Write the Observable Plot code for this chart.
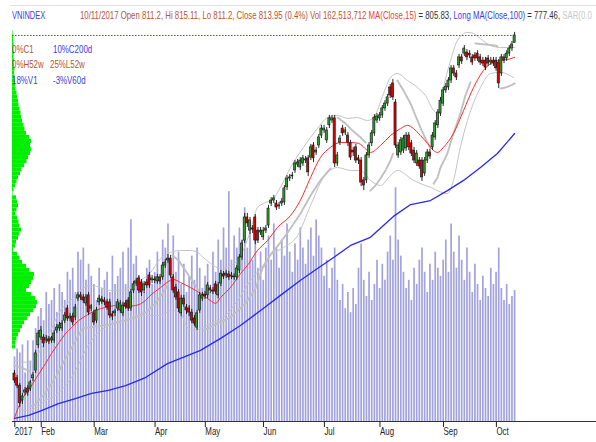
<!DOCTYPE html>
<html>
<head>
<meta charset="utf-8">
<script src="https://cdn.jsdelivr.net/npm/d3@7"></script>
<script src="https://cdn.jsdelivr.net/npm/@observablehq/plot@0.6"></script>
<style>
html,body{margin:0;padding:0;background:#fff;}
#wrap{position:relative;width:596px;height:442px;overflow:hidden;font-family:"Liberation Sans",Arial,sans-serif;background:#fff;}
#wrap svg{position:absolute;left:0;top:0;}
.t{position:absolute;font-size:11px;line-height:11px;white-space:nowrap;transform-origin:0 0;transform:scaleX(0.72);z-index:5;}
#topline{position:absolute;left:10px;right:0;top:5px;height:0;border-top:1px solid #e2e2e2;}
</style>
</head>
<body>
<div id="wrap">
<div id="topline"></div>
<div class="t" style="left:12px;top:10px;color:#4040d8;transform:scaleX(0.68)">VNINDEX</div>
<div class="t" style="left:80px;top:10px;color:#b4553a;transform:scaleX(0.71)">10/11/2017 Open 811.2, Hi 815.11, Lo 811.2, Close 813.95 (0.4%) Vol 162,513,712 <span style="color:#e8433a">MA(Close,15)</span><span style="color:#333"> = 805.83, </span><span style="color:#3c3ce4">Long MA(Close,100)</span><span style="color:#333"> = 777.46, </span><span style="color:#c8c8c8">SAR(0.0</span></div>
<div class="t" style="left:12px;top:43.5px;color:#b4553a">0%C1</div>
<div class="t" style="left:53px;top:43.5px;color:#4040d8">10%C200d</div>
<div class="t" style="left:12px;top:58.5px;color:#b4553a">0%H52w</div>
<div class="t" style="left:50px;top:58.5px;color:#b4553a">25%L52w</div>
<div class="t" style="left:12px;top:75px;color:#4040d8">18%V1</div>
<div class="t" style="left:53px;top:75px;color:#4040d8">-3%V60d</div>
</div>
<script>
// ---- daily bars (trading-day index 0 = first bar of 2017) ----
const opens = [
688.1,686.3,683.6,678.1,681.0,682.5,682.5,686.3,689.2,698.6,
701.5,701.5,700.4,700.8,700.4,700.4,704.1,704.9,704.9,707.8,
712.3,708.6,709.3,709.0,716.0,717.2,716.4,714.2,717.2,712.3,
710.5,707.8,714.6,715.7,715.3,714.6,714.6,710.1,710.5,712.3,
711.6,710.5,714.2,715.3,712.3,719.0,721.6,723.5,722.0,719.0,
722.0,724.6,722.8,723.1,722.4,723.9,723.9,728.3,730.2,730.9,
723.9,720.1,718.3,710.5,716.0,712.7,712.3,710.8,708.6,705.2,
711.6,716.0,717.5,717.2,719.8,719.0,721.3,717.2,721.6,725.0,
724.6,725.0,724.2,723.9,723.9,726.5,731.3,737.6,746.2,741.3,
742.1,746.2,741.3,740.6,738.8,741.3,743.2,751.4,752.5,751.4,
750.7,751.4,751.8,757.4,760.7,761.5,763.7,765.9,764.8,766.3,
767.4,768.2,768.5,773.0,770.4,773.0,776.7,778.6,774.9,780.5,
782.3,783.1,766.3,774.1,779.3,777.8,776.7,773.8,771.1,772.3,
768.2,767.4,760.0,760.0,769.3,773.8,777.5,782.3,783.1,784.2,
786.8,788.6,794.6,796.1,789.0,769.3,770.4,771.1,771.9,776.7,
773.8,771.1,766.3,767.4,767.4,762.6,767.4,770.4,772.3,776.0,
780.5,784.9,788.6,793.5,794.6,797.2,801.7,799.8,802.8,805.8,
807.2,807.6,807.2,805.8,806.5,807.2,805.8,804.6,804.6,805.4,
803.9,804.6,804.6,803.9,799.8,805.8,805.4,807.2,809.1,811.2];
const highs = [
689.2,687.4,684.4,680.7,682.9,683.6,685.5,688.5,696.7,704.1,
705.6,702.6,702.3,701.9,701.9,704.1,706.4,707.1,707.8,710.8,
713.4,710.5,710.5,713.8,718.3,718.3,717.5,717.5,718.3,713.8,
711.6,712.7,717.2,716.8,716.4,715.7,715.7,711.2,712.0,715.7,
715.3,714.6,715.3,716.4,719.4,722.4,723.5,724.6,723.1,722.4,
723.1,725.7,724.6,724.2,725.0,725.0,729.4,730.6,732.4,732.1,
725.0,721.3,719.4,717.2,717.2,713.8,713.4,712.0,709.7,711.6,
718.3,718.3,718.6,722.0,720.9,720.1,722.4,722.0,726.5,726.1,
726.5,726.1,725.7,725.3,728.3,732.4,737.6,747.7,747.7,746.2,
743.2,747.3,742.5,742.5,742.5,743.2,750.7,753.6,754.4,752.5,
751.8,753.3,758.1,761.8,762.2,763.0,767.4,767.8,768.5,769.3,
768.9,769.3,773.4,774.1,772.3,777.1,780.5,780.5,779.7,784.2,
784.2,784.2,770.4,776.7,780.5,779.7,777.8,774.9,772.3,773.4,
769.3,768.5,761.1,770.4,774.1,778.6,784.5,784.9,785.3,787.9,
789.7,792.0,795.7,797.6,790.1,774.1,776.0,776.7,777.8,777.8,
774.9,772.3,771.1,768.5,768.5,768.5,771.5,771.5,777.8,782.3,
786.4,790.9,794.6,796.1,798.3,802.8,802.8,800.9,806.9,806.9,
810.2,808.7,808.3,806.9,807.6,808.3,806.9,805.8,805.8,806.5,
805.8,805.8,805.8,805.0,806.9,806.9,808.3,810.2,811.7,815.11];
const lows = [
684.4,682.5,675.5,676.6,679.9,679.6,681.4,685.1,688.1,697.4,
700.4,697.8,699.3,698.9,699.3,699.3,703.0,703.8,703.8,706.7,
707.5,707.5,706.0,707.8,714.9,715.3,714.2,713.1,709.7,711.2,
706.0,706.7,713.4,713.8,713.4,711.6,708.6,707.8,709.3,711.2,
710.5,709.3,712.0,711.2,711.2,717.9,720.5,717.9,716.8,717.9,
719.8,719.8,721.6,721.6,721.3,721.3,722.8,727.2,729.1,723.5,
717.9,715.3,710.8,709.3,712.7,710.1,709.3,706.7,705.6,704.1,
710.5,714.9,715.7,716.0,717.9,717.5,717.5,716.0,720.5,723.1,
723.5,722.8,723.1,722.8,722.8,725.3,730.2,736.5,742.5,739.9,
740.2,736.1,736.5,739.5,737.6,740.2,742.1,750.3,751.4,748.8,
749.2,750.3,750.7,756.2,759.6,760.3,762.6,764.8,763.7,765.2,
766.3,761.5,767.4,766.7,769.3,771.9,775.6,777.5,773.8,779.3,
781.2,764.8,765.2,773.0,776.4,776.7,772.6,767.4,768.9,766.3,
765.9,757.7,756.2,758.8,768.2,772.6,776.4,781.2,782.0,783.1,
785.7,787.5,790.5,789.7,771.9,768.2,769.3,770.0,770.8,771.1,
768.9,766.3,765.2,764.1,759.6,761.5,766.3,767.8,771.1,774.9,
779.3,783.8,787.5,792.4,793.5,796.1,798.7,797.2,801.7,803.2,
806.1,804.6,805.4,802.8,804.3,804.3,802.8,802.4,800.9,802.4,
802.8,802.4,800.6,794.2,798.7,803.5,804.3,806.1,808.0,811.2];
const closes = [
685.5,683.6,677.0,679.6,681.8,681.0,684.8,687.4,695.6,703.0,
704.1,699.3,701.2,700.0,701.2,703.0,705.2,706.0,706.7,709.7,
708.6,709.3,707.1,712.7,717.2,716.4,715.3,716.4,710.8,713.1,
707.1,711.6,716.0,714.9,714.6,712.7,709.7,709.3,711.2,714.6,
714.2,713.4,713.1,712.3,718.3,721.3,722.4,719.0,718.3,721.3,
720.9,720.9,723.5,722.8,723.9,722.4,728.3,729.4,730.9,724.6,
719.0,716.4,712.3,716.0,713.8,711.6,710.8,707.8,706.7,710.5,
717.2,717.2,716.8,720.9,719.0,718.6,718.6,720.9,725.3,724.2,
725.3,723.9,724.6,724.2,727.2,731.3,736.5,746.2,744.0,745.1,
741.7,737.6,737.6,741.3,741.3,742.1,749.5,752.5,753.3,749.9,
750.3,752.1,757.0,760.7,761.1,761.8,766.3,766.7,767.4,768.2,
767.8,763.0,772.3,768.2,771.1,776.0,779.3,779.3,778.6,783.1,
783.1,766.3,769.3,775.6,777.5,778.6,774.1,768.5,770.4,767.4,
767.4,759.2,758.1,769.3,773.0,777.5,783.4,783.8,784.2,786.8,
788.6,790.9,791.6,790.9,773.0,773.0,774.9,775.6,776.7,772.3,
770.0,767.4,770.0,765.2,761.1,767.4,770.4,768.9,776.7,781.2,
785.3,789.7,793.5,794.9,797.2,801.7,799.8,798.3,805.8,804.3,
809.1,805.8,806.5,803.9,805.4,805.4,803.9,803.5,802.0,803.5,
804.6,803.5,801.7,796.1,805.8,804.6,807.2,809.1,810.6,813.95];
// volume, millions of shares
const volumes = [
80,90,85,95,60,100,75,100,115,130,
140,125,160,145,150,165,135,170,160,150,
185,175,190,160,210,200,215,175,195,180,
170,150,190,165,175,185,160,205,170,180,
190,210,170,215,250,195,205,180,175,160,
190,200,170,185,210,175,225,215,245,200,
230,185,210,170,195,160,180,205,175,215,
190,165,180,195,160,210,185,225,200,240,
215,285,200,230,215,240,225,265,215,235,
200,225,190,210,175,215,230,200,245,215,
190,225,205,245,210,185,220,200,240,215,
195,225,240,205,250,230,215,180,200,165,
190,215,175,150,170,140,160,135,165,145,
190,220,175,155,185,150,170,200,165,195,
175,210,230,200,290,225,205,185,165,175,
150,190,170,200,215,185,160,195,175,210,
190,180,200,225,185,245,210,190,230,200,
175,215,185,160,195,170,150,180,165,155,
190,170,185,215,165,150,170,145,155,162.5];

// ---- month ticks ----
const monthIdx = [0,10,30,53,72,94,117,138,162,182];
const monthLabels = ["2017","Feb","Mar","Apr","May","Jun","Jul","Aug","Sep","Oct"];

// ---- indicators ----
const ma15Idx = [0,3,5.3,8.3,11.7,14,16.6,19.3,21.5,24.2,27.2,30.6,34.4,38.2,42,45.7,49.5,51.4,55.2,59,60.1,62.7,66.5,70.3,74,76,77.9,81.6,85.4,88,91.8,95.6,99.4,104.3,108,111.9,115.6,119.4,123.2,127,130,133.4,134.5,138.3,142.1,145.9,148.5,150.8,153.4,156.1,158.4,159.9,162.1,165.9,169.7,173.5,177.2,179.9,182.5,186.3,189];
const ma15Val = [671.7,678.8,681.8,686.6,691.8,695.6,699.3,703.0,705.2,707.8,709.7,711.6,712.7,713.4,713.1,713.4,715.3,717.2,720.1,722.8,723.1,722.0,720.1,717.9,715.3,714.2,716.4,720.1,725.3,728.3,733.9,737.6,742.5,746.9,752.5,761.1,768.5,772.3,774.1,774.1,773.8,771.1,770.4,773.0,776.7,779.3,780.5,779.3,776.7,773.8,771.1,770.4,772.3,777.5,786.0,794.6,800.9,803.5,804.6,805.0,805.83];
const ma100Idx = [0,5.3,10.2,16.6,23,29.1,35.5,42,49.5,57.8,70.3,77.9,85.4,93,100.5,108.1,114.5,120.6,127,134.5,143.2,149.7,157.2,163.6,169.7,176.1,182.5,189];
const ma100Val = [671.4,672.5,674.3,676.9,678.8,680.7,681.8,683.6,686.6,691.8,696.7,701.2,706.0,711.6,717.2,722.8,727.2,731.3,735.8,738.8,746.6,751.0,752.5,756.2,760.0,764.8,770.0,777.46];
const bbUpIdx = [0,6,9.8,13.6,17.4,21.2,24.9,28.7,32.5,36.3,40.1,43.8,47.6,51.4,55.2,59,62.7,66.5,69.2,71.4,74.1,77.9,81.6,84.3,89.2,91.8,94.1,97.9,100.5,104.3,109.2,114.5,118.3,122.1,125.9,129.6,133.4,135.7,139.5,142.1,144.7,148.5,152.3,155.3,158.4,159.9,162.1,164.8,167.4,171.2,173.5,176.1,179.9,183.7,189];
const bbUpVal = [693.0,692.2,696.7,704.1,711.6,715.3,719.0,720.9,720.1,719.0,719.0,720.1,722.8,725.7,730.9,733.2,733.9,733.9,733.2,731.3,729.1,727.2,728.3,730.2,741.3,749.9,751.4,753.3,757.4,764.8,772.3,779.3,783.4,784.2,783.1,783.4,782.3,783.4,792.4,798.3,799.8,797.2,794.6,791.6,786.0,784.9,794.6,804.6,812.1,815.1,814.7,812.8,810.2,809.5,809.5];
const bbLoIdx = [0,4.2,7.9,11.7,15.5,19.3,23.1,26.8,30.6,34.4,38.2,42,45.7,49.5,54,60.1,62.7,65.4,67.6,70.3,74.1,79,84.3,89.2,93,96.8,101.7,107,111.9,116.8,122.1,127,130.8,134.5,138.3,142.1,144.7,150.8,157.2,163.6,165.9,168.5,171.2,176.1,179.9,183.7,188.6];
const bbLoVal = [676.2,674.3,675.1,678.1,679.9,683.6,689.2,696.7,702.3,705.2,707.1,707.8,708.6,709.7,709.7,711.6,710.5,705.2,704.1,704.9,706.7,709.0,715.3,722.8,727.2,732.1,735.0,739.5,750.7,761.1,764.8,763.7,763.7,760.0,758.1,761.8,763.7,760.0,757.4,755.1,760.0,772.3,782.3,794.6,799.8,800.2,798.3];
const sarIdx = [0,2.3,4.2,6.0, 6.0,7.9,11.7,15.5,19.3,23.1,25.7,30.6,36.3,42.0,45.7,49.5,53.3,55.9,58.2, 59.7,62.0,64.6,67.3,69.5, 71.4,76.0,81.6,87.3,91.1,93.7,96.8,100.5,104.3,108.1,111.9,115.6,119.4, 122.1,125.1,127.7,130.8,133.0, 134.5,136.4,138.3,140.2,142.1,143.2, 144.7,147.0,149.7,151.5,153.4,155.3,157.2, 158.4,159.9,161.0,163.6,165.9,168.5,170.4,172.3, 174.2,178.0,181.8,182.5, 183.7,185.6,187.4,189];
const sarVal = [691.1,690.4,689.6,688.9, 675.8,676.6,681.0,686.6,693.7,700.4,704.9,705.6,706.4,707.8,709.3,710.8,714.2,717.9,721.6, 732.1,730.2,726.5,722.4,719.0, 704.1,706.4,709.0,714.2,719.8,727.2,732.4,736.9,742.1,747.7,754.4,760.0,764.4, 783.4,781.2,778.6,776.0,773.8, 756.2,758.1,760.7,763.7,767.4,770.4, 797.2,793.5,788.6,784.2,779.7,775.6,771.9, 758.8,761.1,764.8,770.0,777.5,784.9,791.6,796.5, 811.0,810.6,810.2,809.9, 794.2,794.6,795.3,796.1];
const sarSeg = [0,0,0,0, 1,1,1,1,1,1,1,1,1,1,1,1,1,1,1, 2,2,2,2,2, 3,3,3,3,3,3,3,3,3,3,3,3,3, 4,4,4,4,4, 5,5,5,5,5,5, 6,6,6,6,6,6,6, 7,7,7,7,7,7,7,7, 8,8,8,8, 9,9,9,9];

// ---- volume-at-price profile (left edge) ----
const profilePrice = [815.0,813.5,812.0,810.5,809.0,807.5,806.0,804.5,803.0,801.5,800.0,798.5,797.0,795.5,794.0,792.5,791.0,789.5,788.0,786.5,785.0,783.5,782.0,780.5,779.0,777.5,776.0,774.5,773.0,771.5,770.0,768.5,767.0,765.5,764.0,762.5,761.0,759.5,758.0,756.5,755.0,753.5,752.0,750.5,749.0,747.5,746.0,744.5,743.0,741.5,740.0,738.5,737.0,735.5,734.0,732.5,731.0,729.5,728.0,726.5,725.0,723.5,722.0,720.5,719.0,717.5,716.0,714.5,713.0,711.5,710.0,708.5,707.0,705.5,704.0,702.5,701.0,699.5,698.0];
const profileVol = [0.5,1,1,1.5,1.5,2,1.5,2,2,2.5,2,2.5,3,3,3.5,4.5,5,6,6.5,7.5,8.5,9,10,11.5,12.5,14,17,19,18,19,18,16,14.5,12,9,8,6,4.5,3,1.5,0.5,4,5,6,4.5,3,5,6.5,7.5,9,7,6,4,3,1,5,7.5,10,14,17,22,21,19,17,14,19,23,25,24,21,18,15,12,10,8,6,4.5,3.5,3];

// ---- build ----
const N = closes.length;
const bars = closes.map((c, i) => ({i, o: opens[i], h: highs[i], l: lows[i], c, v: volumes[i]}));
const xDomain = [-0.756, 219.95];
const priceDomain = [670.24, 826.98];
const font = "'Liberation Sans', Arial, sans-serif";
const base = {width: 596, height: 442, marginLeft: 12, marginRight: 0, marginTop: 0, marginBottom: 21,
  style: {background: "transparent", fontFamily: font, overflow: "visible"}};
const pts = (xs, ys) => xs.map((x, k) => ({i: x, p: ys[k]}));

const volChart = Plot.plot({...base,
  x: {domain: xDomain, axis: null, label: null}, y: {domain: [0, 522], axis: null, label: null},
  marks: [Plot.ruleX(bars, {x: "i", y1: 0, y2: "v", stroke: "#a2a2de", strokeWidth: 1.7})]
});

const profChart = Plot.plot({...base, marginRight: 556,
  x: {domain: [0, 28], axis: null, label: null}, y: {domain: priceDomain, axis: null, label: null},
  marks: [Plot.rect(profilePrice.map((p, k) => ({p, w: profileVol[k]})),
    {x1: 0, x2: "w", y1: d => d.p - 0.75, y2: d => d.p + 0.75, fill: "#00ee00"})]
});

const tickPos = monthIdx.map(i => i - 0.45);
const priceChart = Plot.plot({...base,
  x: {domain: xDomain, axis: null, label: null}, y: {domain: priceDomain, axis: null, label: null},
  marks: [
    Plot.line(pts(bbUpIdx, bbUpVal), {x: "i", y: "p", stroke: "#c4c4c4", strokeWidth: 1, curve: "monotone-x"}),
    Plot.line(pts(bbLoIdx, bbLoVal), {x: "i", y: "p", stroke: "#c4c4c4", strokeWidth: 1, curve: "monotone-x"}),
    Plot.line(sarIdx.map((x, k) => ({i: x, p: sarVal[k], s: sarSeg[k]})),
      {x: "i", y: "p", z: "s", stroke: "#c0c0c0", strokeWidth: 2, strokeDasharray: "1.6,1.4"}),
    Plot.line(pts(ma100Idx, ma100Val), {x: "i", y: "p", stroke: "#2828f0", strokeWidth: 1.3}),
    Plot.line(pts(ma15Idx, ma15Val), {x: "i", y: "p", stroke: "#ff2b2b", strokeWidth: 1, curve: "monotone-x"}),
    Plot.ruleY([closes[N - 1]], {x1: xDomain[0], x2: N - 1, stroke: "#4646f0", strokeWidth: 1, strokeDasharray: "1.5,1.5"}),
    Plot.ruleX(bars, {x: "i", y1: "l", y2: "h", stroke: "#111", strokeWidth: 0.9}),
    Plot.rect(bars, {filter: d => d.c >= d.o, x1: d => d.i - 0.4, x2: d => d.i + 0.4, y1: "o", y2: "c",
      fill: "#2e9e2e", stroke: "#111", strokeWidth: 0.6}),
    Plot.rect(bars, {filter: d => d.c < d.o, x1: d => d.i - 0.4, x2: d => d.i + 0.4, y1: "o", y2: "c",
      fill: "#e00000", stroke: "#111", strokeWidth: 0.6}),
    Plot.ruleY([priceDomain[0]], {stroke: "#333"}),
    Plot.axisX(tickPos, {tickFormat: d => monthLabels[tickPos.indexOf(d)], tickSize: 6, tickPadding: 0,
      textAnchor: "start", dx: 1.5, fontSize: 11, color: "#222", label: null})
  ]
});

// condensed look of the tick labels
priceChart.querySelectorAll('g[aria-label="x-axis tick label"] text').forEach(t => {
  const tr = t.getAttribute("transform");
  if (tr) t.setAttribute("transform", tr + " scale(0.72,1)");
  else {
    const x = +t.getAttribute("x") || 0;
    t.setAttribute("x", 0);
    t.setAttribute("transform", `translate(${x},0) scale(0.72,1)`);
  }
});

const wrap = document.getElementById("wrap");
const first = wrap.firstChild;
[volChart, profChart, priceChart].forEach(el => {
  el.style.background = "transparent";
  wrap.insertBefore(el, first);
});
</script>
</body>
</html>
